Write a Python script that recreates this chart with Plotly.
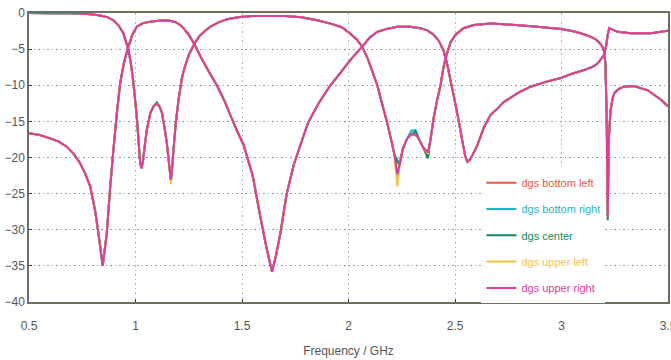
import plotly.graph_objects as go

# ---- data (frequency in GHz, response in dB) ----
series_names = ["dgs bottom left", "dgs bottom right", "dgs center", "dgs upper left", "dgs upper right"]
series_colors = ["#F0553E", "#1FB2C9", "#0B8A5E", "#F6C246", "#E03C9E"]

# transmission-type curve (common shape)
s21_freq = [0.5, 0.6, 0.7, 0.76, 0.8, 0.834, 0.87, 0.896, 0.92, 0.943, 0.967, 0.98, 0.99, 1.0,
            1.006, 1.015, 1.022, 1.028, 1.035, 1.045, 1.053, 1.07, 1.085, 1.1, 1.112, 1.124,
            1.137, 1.147, 1.158, 1.166, 1.172, 1.178, 1.19, 1.202, 1.218, 1.23, 1.25, 1.276,
            1.30, 1.33, 1.351, 1.39, 1.43, 1.49, 1.55, 1.7, 1.78, 1.853, 1.92, 1.962, 1.98,
            2.01, 2.04, 2.064, 2.09, 2.11, 2.135, 2.16, 2.18, 2.2, 2.215, 2.229, 2.24, 2.255,
            2.275, 2.295, 2.315, 2.33, 2.35, 2.373, 2.385, 2.4, 2.415, 2.432, 2.446, 2.46,
            2.48, 2.503, 2.54, 2.589, 2.667, 2.73, 2.8, 2.887, 2.997, 3.05, 3.09, 3.13,
            3.153, 3.175, 3.192, 3.2, 3.206, 3.212, 3.217, 3.222, 3.23, 3.24, 3.25, 3.27,
            3.293, 3.34, 3.405, 3.467, 3.5]
s21_db = [0.0, -0.02, -0.05, -0.1, -0.2, -0.35, -0.6, -1.0, -1.7, -2.8, -5.1, -7.3, -9.7, -12.5,
          -14.4, -18.0, -20.8, -21.5, -20.5, -18.0, -16.2, -13.8, -12.9, -12.6, -12.9, -13.8,
          -16.0, -18.0, -21.0, -23.1, -21.5, -19.0, -15.0, -12.0, -9.0, -7.6, -5.8, -4.3,
          -3.2, -2.4, -1.9, -1.3, -0.85, -0.55, -0.4, -0.4, -0.6, -1.0, -1.5, -1.9, -2.2,
          -2.9, -3.7, -4.66, -6.3, -7.9, -10.0, -12.8, -15.0, -17.5, -19.5, -22.3, -21.0, -18.8,
          -17.4, -16.8, -16.8, -17.4, -18.6, -19.3, -17.5, -14.5, -12.2, -10.0, -7.5, -5.8,
          -4.0, -3.0, -2.1, -1.66, -1.45, -1.55, -1.7, -1.9, -2.2, -2.5, -2.8, -3.2,
          -3.5, -4.0, -4.66, -5.3, -7.0, -14.0, -28.2, -17.5, -13.5, -11.8, -11.0, -10.5,
          -10.2, -10.1, -10.7, -12.0, -12.9]

# reflection-type curve (common shape)
s11_freq = [0.5, 0.55, 0.6, 0.64, 0.677, 0.71, 0.74, 0.765, 0.787, 0.81, 0.826, 0.846, 0.865,
            0.88, 0.896, 0.912, 0.928, 0.945, 0.964, 0.985, 1.006, 1.035, 1.069, 1.12, 1.163,
            1.19, 1.21, 1.225, 1.25, 1.276, 1.31, 1.35, 1.382, 1.415, 1.445, 1.475, 1.508,
            1.55, 1.586, 1.615, 1.641, 1.66, 1.68, 1.71, 1.743, 1.774, 1.81, 1.86, 1.915,
            1.962, 2.009, 2.064, 2.1, 2.135, 2.18, 2.229, 2.29, 2.338, 2.37, 2.40, 2.425,
            2.448, 2.465, 2.48, 2.5, 2.518, 2.535, 2.548, 2.558, 2.57, 2.585, 2.605, 2.636,
            2.667, 2.7, 2.73, 2.8, 2.855, 2.93, 2.997, 3.05, 3.106, 3.15, 3.169, 3.185, 3.2,
            3.21, 3.217, 3.224, 3.24, 3.263, 3.326, 3.42, 3.5]
s11_db = [-16.65, -16.9, -17.35, -17.8, -18.5, -19.5, -20.8, -22.3, -24.0, -27.3, -30.5, -35.0, -30.5,
          -24.5, -19.0, -14.0, -9.7, -7.0, -4.9, -3.0, -1.9, -1.4, -1.2, -1.05, -1.07,
          -1.3, -1.66, -2.1, -3.0, -4.3, -6.3, -8.4, -10.0, -12.0, -14.1, -16.2, -18.3,
          -22.5, -28.2, -32.5, -35.8, -33.5, -30.5, -25.0, -21.0, -18.3, -15.2, -12.5, -10.0,
          -8.3, -6.5, -4.66, -3.4, -2.6, -2.2, -1.9, -1.9, -2.1, -2.4, -3.0, -3.9,
          -5.35, -7.3, -9.5, -12.3, -15.0, -17.8, -19.8, -20.6, -20.3, -19.5, -18.3, -15.8,
          -14.1, -13.2, -12.3, -11.0, -10.2, -9.5, -9.0, -8.4, -7.9, -7.4, -7.0, -6.4, -5.8,
          -4.5, -3.0, -2.1, -2.3, -2.6, -2.8, -2.8, -2.45]

# per-series values that differ from the common transmission shape
s21_changes = {
    "dgs bottom left":  {2.229: -22.7, 2.315: -16.9, 2.373: -19.3},
    "dgs bottom right": {2.229: -20.3, 2.295: -16.3, 2.315: -16.2, 2.373: -19.8, 1.1: -12.4},
    "dgs center":       {2.229: -20.6, 2.315: -16.4, 2.373: -20.1, 1.166: -23.3, 1.1: -12.4, 3.217: -28.7},
    "dgs upper left":   {2.229: -24.0, 2.315: -16.9, 2.373: -19.5, 1.166: -23.7},
    "dgs upper right":  {},
}

fig = go.Figure()
for name, color in zip(series_names, series_colors):
    changes = s21_changes[name]
    s21_vals = [changes.get(f, v) for f, v in zip(s21_freq, s21_db)]
    xs = list(s21_freq) + [None] + list(s11_freq)
    ys = s21_vals + [None] + list(s11_db)
    fig.add_trace(go.Scatter(
        x=xs, y=ys, mode="lines", connectgaps=False,
        line=dict(color=color, width=2, simplify=False),
        name=f"<span style='color:{color}'>{name}</span>",
        legendgroup=name,
    ))

font_family = "Liberation Sans Narrow, Arial Narrow, Liberation Sans, sans-serif"
axis_line = "#6E6E5C"

fig.update_layout(
    width=671, height=360,
    margin=dict(l=29, r=3, t=13, b=58, autoexpand=False),
    paper_bgcolor="white", plot_bgcolor="white",
    font=dict(family=font_family, size=12, color="#555555"),
    showlegend=True,
    legend=dict(
        x=0.708, y=0.463, xanchor="left", yanchor="top",
        bgcolor="white", borderwidth=0,
        font=dict(family=font_family, size=11),
        tracegroupgap=7.3, traceorder="grouped",
        itemwidth=30,
    ),
)
fig.update_xaxes(
    range=[0.5, 3.5], dtick=0.5, tick0=0.5,
    showline=True, linecolor=axis_line, linewidth=1.5, mirror=True,
    showgrid=True, gridcolor="#a8b4b4", griddash="1.5px,3px", gridwidth=1,
    ticks="inside", ticklen=3, tickcolor="#333333",
    zeroline=False, automargin=False,
    tickfont=dict(size=12, color="#555555"),
    ticklabelstandoff=12, ticklabeloverflow="allow",
    title=dict(text="Frequency / GHz", font=dict(size=12, color="#555555"), standoff=14),
)
fig.update_yaxes(
    range=[-40, 0], dtick=5, tick0=0,
    showline=True, linecolor=axis_line, linewidth=1.5, mirror=True,
    showgrid=True, gridcolor="#8a9a9a", griddash="1.5px,3px", gridwidth=1,
    ticks="inside", ticklen=3, tickcolor="#333333",
    zeroline=False, automargin=False,
    tickfont=dict(size=12, color="#555555"),
)

fig.write_html("out.html", config={"displayModeBar": False},
               post_script="document.body.style.margin='0';document.body.style.padding='0';")
